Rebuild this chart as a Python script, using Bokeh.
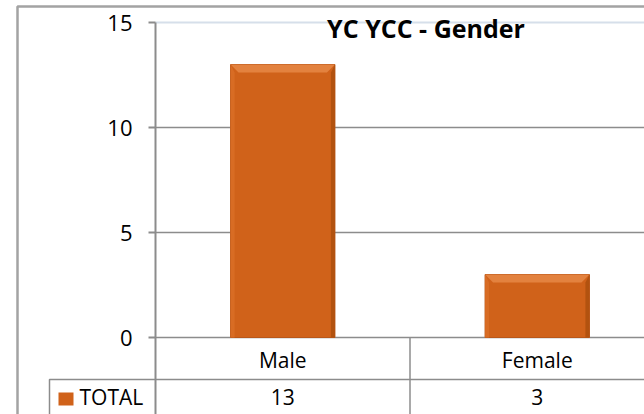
from bokeh.plotting import figure
from bokeh.models import Range1d, FixedTicker
from bokeh.core.properties import value
from bokeh.embed import file_html
from bokeh.resources import INLINE

# ---- data ----
title_text = "YC YCC - Gender"
categories = ["Male", "Female"]
totals = [13, 3]
series_name = "TOTAL"
y_ticks = [0, 5, 10, 15]

# ---- layout constants (pixels) ----
W, H = 644, 414
AXIS_X = 155        # canvas x of the value axis
ZERO_Y = 337        # canvas y of value 0
PX_X = 254.5        # pixels per category
PX_Y = 21.0         # pixels per value unit
TXT = 9.5           # correction for where the text baseline lands
FONT = "Open Sans"
ORANGE = "#d0621a"
GRID = "#8c8c8c"

def sx(px):
    return (px - AXIS_X) / PX_X

def sy(py):
    return (ZERO_Y - py) / PX_Y

def sy_text(py):
    return sy(py - TXT)

x_range = Range1d(sx(0), sx(W))
y_range = Range1d(sy(H), sy(0))
X_END = x_range.end + 1
Y_END = y_range.start - 1

p = figure(width=W, height=H, x_range=x_range, y_range=y_range,
           output_backend="svg", toolbar_location=None, x_axis_type=None,
           min_border_left=0, min_border_right=0, min_border_top=0,
           min_border_bottom=0)
p.outline_line_color = None
p.background_fill_color = "white"
p.border_fill_color = "white"
p.xgrid.visible = False
p.ygrid.visible = False

# value axis, drawn at x = 0 inside the plot frame
ax = p.yaxis[0]
ax.fixed_location = 0
ax.ticker = FixedTicker(ticks=y_ticks)
ax.bounds = (y_range.start, max(y_ticks))
ax.axis_line_color = GRID
ax.axis_line_width = 2
ax.major_tick_line_color = GRID
ax.major_tick_line_width = 2
ax.major_tick_out = 7
ax.major_tick_in = 0
ax.minor_tick_line_color = None
ax.major_label_standoff = 16
ax.major_label_text_font = FONT
ax.major_label_text_font_size = "22px"
ax.major_label_text_color = "black"

# outer chart border
p.quad(left=[sx(17)], right=[X_END], top=[sy(6)], bottom=[Y_END],
       fill_color=None, line_color="#a3a3a3", line_width=2.5)

# gridlines
grid_vals = y_ticks[:-1]
p.segment(x0=[0] * len(grid_vals), x1=[X_END] * len(grid_vals),
          y0=grid_vals, y1=grid_vals, line_color=GRID, line_width=1.5)
p.segment(x0=[0], x1=[X_END], y0=[max(y_ticks)], y1=[max(y_ticks)],
          line_color="#d6dfea", line_width=2)

# title
p.text(x=[sx(425.5)], y=[sy_text(36.5)], text=[title_text], text_align="center",
       text_baseline="alphabetic", text_font=value(FONT),
       text_font_size=value("25px"), text_font_style="bold", text_color="black")

# bars with bevel
xs = [i + 0.5 for i in range(len(categories))]
bw = 0.41
lefts = [x - bw / 2 for x in xs]
rights = [x + bw / 2 for x in xs]
p.quad(left=lefts, right=rights, bottom=0, top=totals, fill_color=ORANGE,
       line_color="#b9571a", line_width=1)
d = 8 / PX_X
dy = 8 / PX_Y
top_x, top_y, r_x, r_y, l_x, l_y = [], [], [], [], [], []
for l, r, t in zip(lefts, rights, totals):
    top_x.append([l, r, r - d, l + d]); top_y.append([t, t, t - dy, t - dy])
    r_x.append([r, r, r - d * 0.5, r - d * 0.5]); r_y.append([t, 0, 0, t - dy])
    l_x.append([l, l + d * 0.5, l + d * 0.5, l]); l_y.append([t, t - dy, 0, 0])
p.patches(top_x, top_y, fill_color="#e3823f", line_color=None)
p.patches(r_x, r_y, fill_color="#b2520f", line_color=None)
p.patches(l_x, l_y, fill_color="#d86c24", line_color=None)

# data table
p.quad(left=[sx(49)], right=[X_END], top=[sy(379)], bottom=[Y_END],
       fill_color=None, line_color=GRID, line_width=1.5)
bounds_x = list(range(1, len(categories)))
p.segment(x0=bounds_x, x1=bounds_x, y0=[0] * len(bounds_x),
          y1=[Y_END] * len(bounds_x), line_color=GRID, line_width=1.5)
p.text(x=xs, y=[sy_text(369)] * len(xs), text=categories, text_align="center",
       text_baseline="alphabetic", text_font=value(FONT),
       text_font_size=value("21px"), text_color="black")
p.text(x=xs, y=[sy_text(406)] * len(xs), text=[str(v) for v in totals],
       text_align="center", text_baseline="alphabetic", text_font=value(FONT),
       text_font_size=value("21px"), text_color="black")

# legend key and series name
p.quad(left=[sx(58)], right=[sx(73)], top=[sy(392)], bottom=[sy(405)],
       fill_color=ORANGE, line_color=None)
p.text(x=[sx(79)], y=[sy_text(406)], text=[series_name], text_align="left",
       text_baseline="alphabetic", text_font=value(FONT),
       text_font_size=value("21px"), text_color="black")

open("out.html", "w").write(file_html(p, INLINE))
